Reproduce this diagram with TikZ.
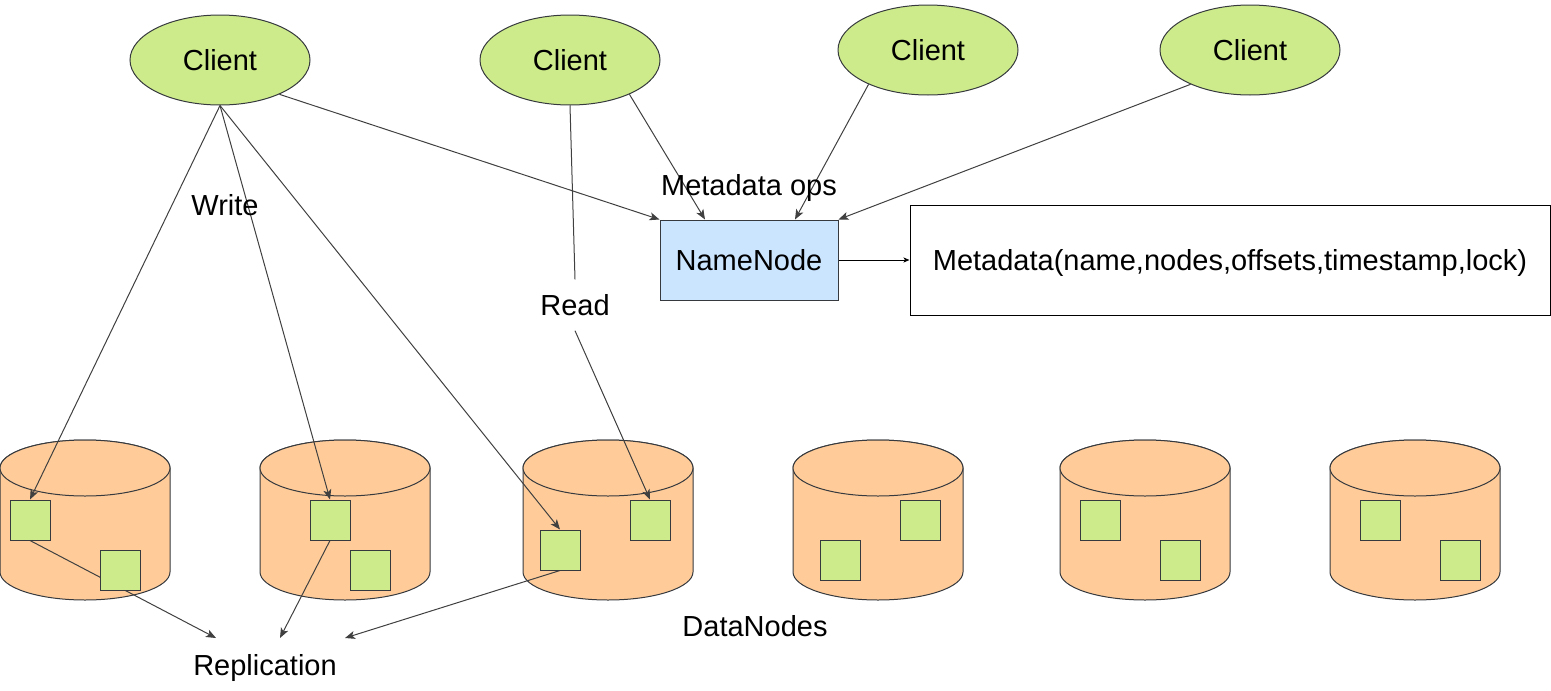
\documentclass[tikz,border=0pt]{standalone}
\usepackage{fontspec}
\setmainfont{Liberation Sans}
\usetikzlibrary{shapes.geometric,arrows.meta}
\definecolor{cgreen}{HTML}{CDEB8B}
\definecolor{corange}{HTML}{FFCC99}
\definecolor{cblue}{HTML}{CCE5FF}
\definecolor{cborder}{HTML}{36393D}
\definecolor{cline}{HTML}{404040}
\pgfdeclarelayer{cyl}
\pgfdeclarelayer{conn}
\pgfsetlayers{cyl,conn,main}
\newcommand\drawcyl[1]{%
  \path[cylstyle] (#1,468) -- (#1,572)
    arc[start angle=180,end angle=360,x radius=85pt,y radius=28pt]
    -- (#1+170,468)
    arc[start angle=0,end angle=180,x radius=85pt,y radius=28pt] -- cycle;
  \draw[cylstyle] (#1+85,468) ellipse[x radius=85pt,y radius=28pt];
}
\begin{document}
\begin{tikzpicture}[x=1pt,y=-1pt,
  every node/.style={font=\fontsize{29}{35}\selectfont, text height=21pt, text depth=0pt},
  client/.style={ellipse, draw=cborder, fill=cgreen, minimum width=180pt, minimum height=90pt, inner sep=0pt, line width=1pt},
  namebox/.style={rectangle, draw=cborder, fill=cblue, minimum width=178pt, minimum height=80pt, inner sep=0pt, line width=1pt},
  metabox/.style={rectangle, draw=black, fill=white, minimum width=640pt, minimum height=110pt, inner sep=0pt, line width=1pt},
  blockbox/.style={rectangle, draw=cborder, fill=cgreen, minimum size=40pt, inner sep=0pt, line width=1pt},
  lbl/.style={inner sep=0pt},
  cylstyle/.style={fill=corange, draw=cborder, line width=1pt},
  conn/.style={draw=cline, line width=1pt, -{Stealth[length=10pt,width=8pt,inset=2.5pt]}},
  plainline/.style={draw=cline, line width=1pt},
  smallarr/.style={draw=black, line width=1pt, -{Stealth[length=6pt,width=5pt,inset=1.5pt]}}
]
\useasboundingbox (0,0) rectangle (1551,691);

% cylinders (DataNodes)
\begin{pgfonlayer}{cyl}
  \drawcyl{0}
  \drawcyl{260}
  \drawcyl{523}
  \drawcyl{793}
  \drawcyl{1060}
  \drawcyl{1330}
\end{pgfonlayer}

% clients
\node[client] (c1) at (220,60) {Client};
\node[client] (c2) at (570,60) {Client};
\node[client] (c3) at (928,50) {Client};
\node[client] (c4) at (1250,50) {Client};

% name node and metadata
\node[namebox] (nn) at (749,260) {NameNode};
\node[metabox] (md) at (1230,260) {Metadata(name,nodes,offsets,timestamp,lock)};

% labels
\node[lbl] (ops) at (749,185) {Metadata ops};
\node[lbl] (write) at (225,205) {Write};
\node[lbl, inner ysep=15pt] (read) at (575,305) {Read};
\node[lbl] (dn) at (755,626) {DataNodes};
\node[lbl] (repl) at (265,665) {Replication};

% blocks
\node[blockbox] (b1a) at (30,520) {};
\node[blockbox] (b1b) at (120,570) {};
\node[blockbox] (b2a) at (330,520) {};
\node[blockbox] (b2b) at (370,570) {};
\node[blockbox] (b3a) at (560,550) {};
\node[blockbox] (b3b) at (650,520) {};
\node[blockbox] (b4a) at (920,520) {};
\node[blockbox] (b4b) at (840,560) {};
\node[blockbox] (b5a) at (1100,520) {};
\node[blockbox] (b5b) at (1180,560) {};
\node[blockbox] (b6a) at (1380,520) {};
\node[blockbox] (b6b) at (1460,560) {};

\coordinate (r1) at (216,638);
\coordinate (r2) at (280,638);
\coordinate (r3) at (345,638);

\begin{pgfonlayer}{conn}
  \draw[conn] (c1.-30) -- (nn.north west);
  \draw[conn] (c1.south) -- (b1a.north);
  \draw[conn] (c1.south) -- (b2a.north);
  \draw[conn] (c1.south) -- (b3a.north);
  \draw[plainline] (c2.south) -- (read.north);
  \draw[conn] (read.south) -- (b3b.north);
  \draw[conn] (c2.-30) -- ([xshift=-44pt]nn.north);
  \draw[conn] (c3.210) -- ([xshift=46pt]nn.north);
  \draw[conn] (c4.210) -- (nn.north east);
  \draw[smallarr] (nn.east) -- (md.west);
  \draw[conn] (b1a.south) -- (r1);
  \draw[conn] (b2a.south) -- (r2);
  \draw[conn] (b3a.south) -- (r3);
\end{pgfonlayer}
\end{tikzpicture}
\end{document}
